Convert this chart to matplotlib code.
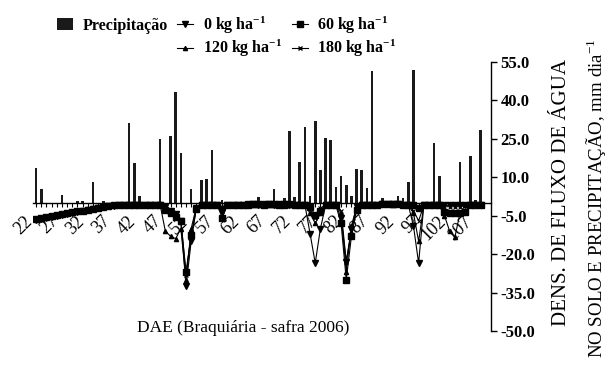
import matplotlib
matplotlib.use("Agg")
import matplotlib.pyplot as plt
from matplotlib.lines import Line2D
from matplotlib.patches import Patch

plt.rcParams['font.family'] = ['Liberation Serif', 'DejaVu Serif']
plt.rcParams['mathtext.default'] = 'regular'

# days after emergence (DAE)
days = list(range(22, 109))

# precipitation (mm/day), only rainy days
prec_days = [22, 23, 27, 30, 31, 33, 35, 40, 41, 42, 46, 48, 49, 50, 52, 54, 55, 56, 58,
             63, 65, 68, 70, 71, 72, 73, 74, 75, 76, 77, 78, 79, 80, 81, 82, 83, 84, 85,
             86, 87, 89, 92, 93, 94, 95, 99, 100, 104, 106, 107, 108]
prec_vals = [13.8, 5.4, 3.1, 0.6, 0.7, 8.0, 0.9, 31.0, 15.6, 2.7, 24.8, 26.1, 43.1, 19.6, 5.4,
             9.0, 9.5, 20.5, 1.0, 0.9, 2.2, 5.3, 1.8, 28.0, 2.2, 16.1, 29.7, 2.7, 32.0, 13.0,
             25.3, 24.5, 6.2, 10.6, 7.0, 2.7, 13.2, 12.9, 5.8, 51.4, 1.8, 2.7, 1.8, 8.0, 51.8,
             23.5, 10.6, 16.0, 18.2, 1.2, 28.3]

# soil water flux density (mm/day) for each N rate
flux_0 = [-6.6, -6.2, -5.8, -5.4, -5.0, -4.6, -4.2, -3.8, -3.4, -3.0,
          -2.7, -2.3, -2.0, -1.6, -1.3, -1.1, -0.9, -0.8, -0.8, -0.7,
          -0.7, -0.7, -0.7, -0.7, -0.8, -1.5, -3.0, -4.5, -7.0, -32.5,
          -15.0, -2.0, -0.8, -0.7, -0.7, -0.8, -3.5, -0.8, -0.7, -0.7,
          -0.7, -0.6, -0.6, -0.7, -0.6, -0.6, -0.7, -0.6, -0.6, -0.7,
          -0.7, -0.7, -0.8, -12.0, -23.5, -10.0, -1.0, -0.8, -0.8, -6.0,
          -23.0, -10.0, -1.5, -0.8, -0.7, -0.7, -0.7, -0.6, -0.6, -0.6,
          -0.6, -0.7, -0.8, -9.0, -23.5, -1.0, -0.8, -0.8, -0.8, -1.0,
          -1.0, -1.0, -1.0, -0.8, -0.7, -0.7, -0.7]
flux_60 = [-6.4, -6.0, -5.6, -5.2, -4.8, -4.4, -4.0, -3.7, -3.3, -3.0,
           -2.6, -2.3, -1.9, -1.6, -1.3, -1.0, -0.9, -0.8, -0.8, -0.7,
           -0.7, -0.7, -0.7, -0.7, -0.8, -2.7, -4.0, -5.5, -7.0, -27.0,
           -12.5, -2.3, -0.8, -0.7, -0.7, -0.8, -5.7, -0.8, -0.7, -0.7,
           -0.7, -0.7, -0.6, -0.6, -0.7, -0.6, -0.6, -0.7, -0.7, -0.6,
           -0.7, -0.7, -0.8, -1.5, -4.9, -3.0, -1.0, -0.8, -1.0, -8.0,
           -30.0, -13.0, -2.7, -0.8, -0.7, -0.7, -0.7, -0.6, -0.6, -0.6,
           -0.6, -0.7, -0.8, -0.8, -2.0, -0.9, -0.8, -0.8, -1.0, -3.5,
           -3.8, -3.8, -3.8, -3.5, -0.9, -0.7, -0.7]
flux_120 = [-6.0, -5.7, -5.3, -5.0, -4.6, -4.2, -3.9, -3.5, -3.2, -2.9,
            -2.5, -2.2, -1.9, -1.6, -1.3, -1.0, -0.8, -0.8, -0.7, -0.7,
            -0.7, -0.7, -0.7, -0.7, -0.8, -11.0, -13.0, -14.0, -10.0, -30.0,
            -10.0, -1.5, -0.8, -0.7, -0.7, -0.8, -1.5, -0.8, -0.7, -0.7,
            -0.7, -0.6, -0.7, -0.7, -0.6, -0.7, -0.7, -0.6, -0.7, -0.7,
            -0.7, -0.7, -0.8, -4.0, -8.0, -4.0, -1.0, -0.8, -1.0, -4.0,
            -27.0, -9.0, -1.5, -0.8, -0.7, -0.7, -0.7, -0.6, -0.6, -0.7,
            -0.6, -0.7, -0.8, -4.0, -15.0, -1.0, -0.8, -0.8, -1.0, -5.0,
            -11.0, -13.5, -4.0, -1.0, -0.8, -0.7, -0.7]
flux_180 = [-6.2, -5.9, -5.5, -5.1, -4.7, -4.3, -4.0, -3.6, -3.3, -2.9,
            -2.6, -2.2, -1.9, -1.6, -1.3, -1.0, -0.9, -0.8, -0.7, -0.7,
            -0.7, -0.7, -0.7, -0.7, -0.8, -2.0, -3.5, -5.0, -6.5, -28.0,
            -13.0, -2.0, -0.8, -0.7, -0.7, -0.8, -3.0, -0.8, -0.7, -0.7,
            -0.6, -0.7, -0.7, -0.6, -0.7, -0.7, -0.6, -0.7, -0.7, -0.6,
            -0.7, -0.7, -0.8, -3.0, -6.0, -2.0, -1.0, -0.8, -0.9, -3.0,
            -22.9, -11.0, -2.0, -0.8, -0.7, -0.7, -0.7, -0.6, -0.6, -0.6,
            -0.7, -0.7, -0.8, -3.0, -7.0, -1.0, -0.8, -0.8, -1.0, -1.5,
            -1.5, -1.5, -1.5, -1.0, -0.8, -0.7, -0.7]

yticks = [-50, -35, -20, -5, 10, 25, 40, 55]

fig = plt.figure(figsize=(6.1, 3.69), dpi=100)
ax = fig.add_axes([33 / 610, 38 / 369, 458 / 610, 269 / 369])

ax.bar(prec_days, prec_vals, width=0.5, color='#1a1a1a', zorder=2)

lk = dict(color='black', lw=0.8, zorder=3)
ax.plot(days, flux_0, marker='v', ms=4, **lk)
ax.plot(days, flux_60, marker='s', ms=4, **lk)
ax.plot(days, flux_120, marker='^', ms=3, **lk)
ax.plot(days, flux_180, marker='x', ms=3.5, mew=0.8, **lk)

ax.set_xlim(21.4, 110)
ax.set_ylim(-50, 55)

for s in ['left', 'top']:
    ax.spines[s].set_visible(False)
ax.spines['bottom'].set_position(('data', 0))
ax.spines['bottom'].set_linewidth(1.0)
ax.spines['right'].set_linewidth(1.0)

ax.set_xticks(days)
ax.set_xticklabels([str(d) if (d - 22) % 5 == 0 else '' for d in days],
                   rotation=45, ha='right', fontsize=13)
ax.tick_params(axis='x', direction='out', length=3, width=0.8, pad=4)

ax.yaxis.tick_right()
ax.set_yticks(yticks)
ax.set_yticklabels([f'{v:.1f}' for v in yticks], fontsize=12, fontweight='bold')
ax.tick_params(axis='y', direction='out', length=4, width=1.0, pad=3)

# right axis title, two lines
fig.text(561 / 610, 1 - 193 / 369, 'DENS. DE FLUXO DE ÁGUA', rotation=90,
         ha='center', va='center', fontsize=15)
fig.text(596 / 610, 1 - 198 / 369, 'NO SOLO E PRECIPITAÇÃO, mm dia$^{-1}$', rotation=90,
         ha='center', va='center', fontsize=13.6)

ax.text(0.46, 0.01, 'DAE (Braquiária - safra 2006)', transform=ax.transAxes,
        ha='center', va='center', fontsize=12.5)

handles = [
    Patch(facecolor='#1a1a1a', edgecolor='none'),
    Line2D([], [], color='none'),
    Line2D([], [], color='black', lw=0.8, marker='v', ms=4),
    Line2D([], [], color='black', lw=0.8, marker='^', ms=3),
    Line2D([], [], color='black', lw=0.8, marker='s', ms=4),
    Line2D([], [], color='black', lw=0.8, marker='x', ms=3.5),
]
labels = ['Precipitação', '', '0 kg ha$^{-1}$', '120 kg ha$^{-1}$',
          '60 kg ha$^{-1}$', '180 kg ha$^{-1}$']
fig.legend(handles, labels, ncol=3, loc='upper left', bbox_to_anchor=(0.07, 1.0),
           frameon=False, prop=dict(weight='bold', size=11.5), handlelength=1.0,
           handletextpad=0.6, columnspacing=0.6, labelspacing=0.15)

fig.savefig('out.png', dpi=100)
